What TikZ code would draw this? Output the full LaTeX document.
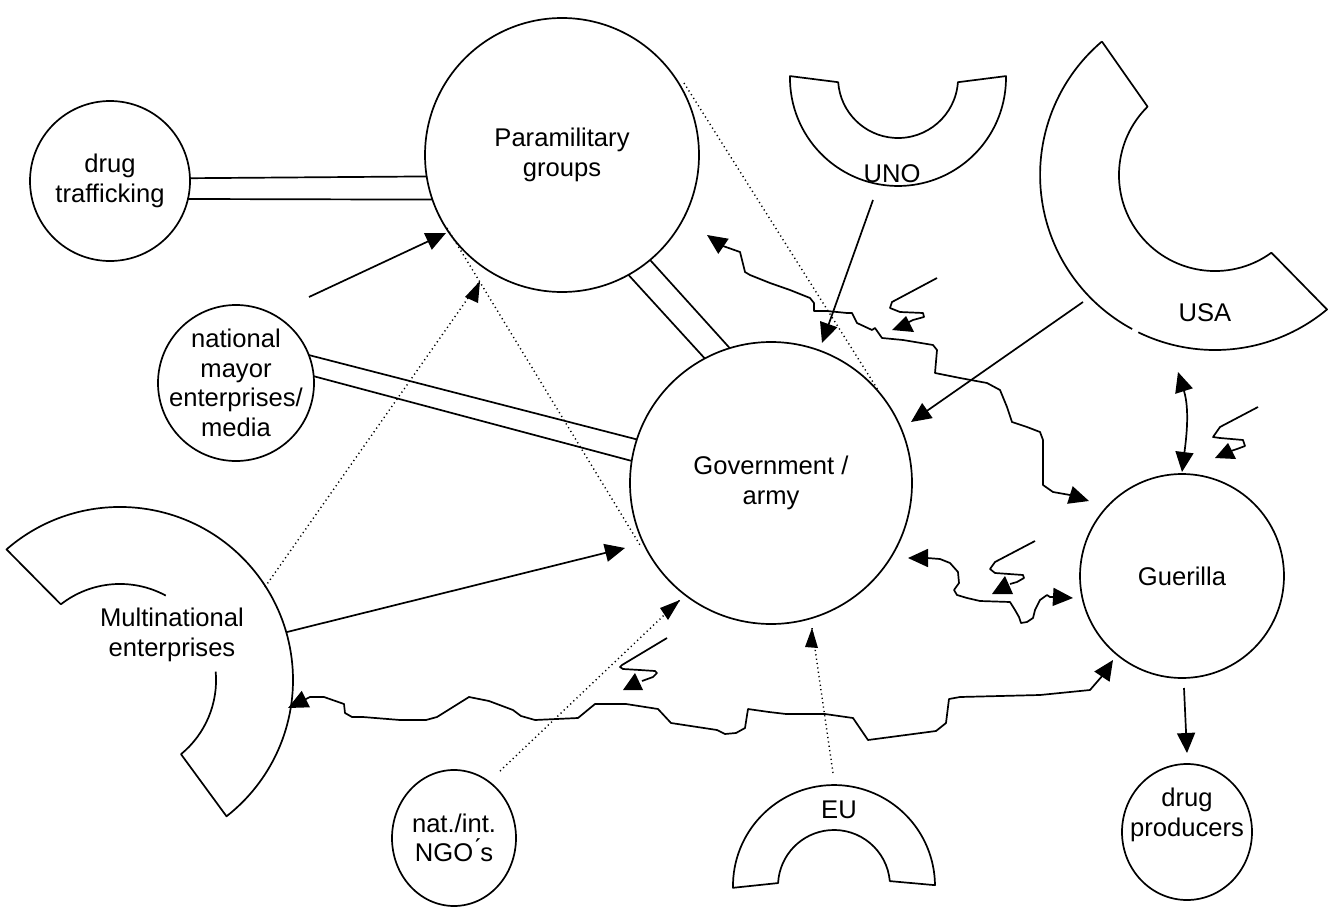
\documentclass[tikz,border=0pt]{standalone}
\usepackage{fontspec}
\setmainfont{Liberation Sans}
\usetikzlibrary{arrows.meta,shapes.geometric}
\begin{document}
\begin{tikzpicture}[x=0.5pt,y=-0.5pt,
  txt/.style={align=center, inner sep=0pt, font=\fontsize{12.8}{14.8}\selectfont},
  ent/.style={draw, circle, line width=0.85pt, inner sep=0pt, outer sep=0pt},
  ell/.style={draw, ellipse, line width=0.85pt, inner sep=0pt, outer sep=0pt},
  con/.style={line width=0.85pt, line join=round},
  tip/.style={-{Triangle[length=10pt,width=9pt]}},
  tips/.style={{Triangle[length=10pt,width=9pt]}-{Triangle[length=10pt,width=9pt]}},
  dotl/.style={line width=0.7pt, dash pattern=on 0.6pt off 1.6pt},
  shp/.style={line width=0.85pt, line join=round},
  head/.style={fill=black}
]
\useasboundingbox (0,0) rectangle (1329,921);

% entities (shapes)
\node[ent, minimum size=80pt]  (dt)  at (110,181) {};
\node[ent, minimum size=137pt] (pm)  at (562,155) {};
\node[ent, minimum size=78pt]  (nm)  at (236,383) {};
\node[ent, minimum size=141pt] (gov) at (771,483) {};
\node[ent, minimum size=102pt] (gue) at (1182,576) {};
\node[ell, minimum width=65pt, minimum height=68pt] (dp)  at (1187,832) {};
\node[ell, minimum width=62pt, minimum height=68pt] (ngo) at (454,838) {};
% entity labels
\node[txt] (dtt)  at (dt)  {drug\\trafficking};
\node[txt] (pmt)  at (pm)  {Paramilitary\\groups};
\node[txt] (nmt)  at (nm)  {national\\mayor\\enterprises/\\media};
\node[txt] (govt) at (gov) {Government /\\army};
\node[txt] (guet) at (gue) {Guerilla};
\node[txt] (dpt)  at (1187,815) {drug\\producers};
\node[txt] (ngot) at (ngo) {nat./int.\\NGO\'{}s};

% arc shaped actors
\draw[shp] (790,76.1) arc[start angle=181,end angle=-1,radius=108] -- (957.9,82.2) arc[start angle=4,end angle=176,radius=60] -- cycle;
\node[txt] (uno) at (892,174) {UNO};
\draw[shp] (733,887.8) arc[start angle=179,end angle=359.5,radius=101] -- (889.8,881.1) arc[start angle=355,end angle=183,radius=56] -- cycle;
\node[txt] (eu) at (839,810) {EU};
\draw[shp] (1101.9,41.5) arc[start angle=229.7,end angle=118.3,radius=175];
\draw[shp] (1138.3,332.3) arc[start angle=116,end angle=50.2,radius=175] -- (1271.4,252.7) arc[start angle=54,end angle=225.4,radius=96] -- (1101.9,41.5);
\node[txt] (usa) at (1205,313) {USA};
\draw[shp] (60.9,604.4) -- (6.5,549.4) arc[start angle=229,end angle=412,radius=173] -- (181,754.2) arc[start angle=50.6,end angle=-5,radius=96];
\draw[shp] (165.8,595.6) arc[start angle=-61.5,end angle=-128,radius=96];
\node[txt] (mne) at (172,635) {Multinational\\enterprises};

% free connector ends
\coordinate (nmA) at (309,297);
\coordinate (pmA) at (446,233);
\coordinate (unoA) at (873,200);
\coordinate (govU) at (822,343);
\coordinate (usaA) at (1083,302);
\coordinate (govS) at (911,422);
\coordinate (mneA) at (287,632);
\coordinate (govM) at (625,548);
\coordinate (mneD) at (265,587);
\coordinate (pmD) at (480,281);
\coordinate (pmE) at (447,228);
\coordinate (govE) at (640,545);
\coordinate (pmF) at (684,83);
\coordinate (govF) at (878,390);
\coordinate (ngoA) at (500,771);
\coordinate (govN) at (680,600);
\coordinate (euA) at (833,773);
\coordinate (govEU) at (812,628);
\coordinate (gueB) at (1184,688);
\coordinate (dpT) at (1187,753);
\coordinate (usaB) at (1178,372);
\coordinate (gueT) at (1182,472);

% double lines
\draw[con] (dt.2) -- (pm.189.7);
\draw[con] (dt.-13.7) -- (pm.199.2);
\draw[con] (pm.-61) -- (gov.118.2);
\draw[con] (pm.-50.8) -- (gov.107.9);
\draw[con] (nm.21.9) -- (gov.162.3);
\draw[con] (nm.5.3) -- (gov.171.3);

% solid arrows
\draw[con,tip] (nmA) -- (pmA);
\draw[con,tip] (unoA) -- (govU);
\draw[con,tip] (usaA) -- (govS);
\draw[con,tip] (mneA) -- (govM);
\draw[con,tip] (gueB) -- (dpT);
\draw[con,tips] (usaB) .. controls (1190,410) and (1186,440) .. (gueT);

% dotted
\draw[dotl] (mneD) -- (pmD);
\fill[head] (pmD) -- ++(-15,16) -- ++(13,6) -- cycle;
\draw[dotl] (pmE) -- (govE);
\draw[dotl] (pmF) -- (govF);
\draw[dotl] (ngoA) -- (govN);
\fill[head] (govN) -- ++(-20,8) -- ++(8,12) -- cycle;
\draw[dotl] (euA) -- (govEU);
\fill[head] (govEU) -- ++(-7,19) -- ++(13,1) -- cycle;

% wavy conflict lines
\draw[con,tips] (707,235) -- (723,246) -- (740,252) -- (745,272) -- (750,275) -- (770,283) -- (790,290) -- (810,298) -- (814,303) -- (814,311) -- (827,311) -- (847,313) -- (852,313) -- (857,323) -- (872,330) -- (875,328) -- (882,338) -- (903,340) -- (933,345) -- (937,350) -- (935,373) -- (960,378) -- (987,383) -- (1000,390) -- (1007,407) -- (1012,422) -- (1027,427) -- (1040,432) -- (1043,440) -- (1043,485) -- (1053,492) -- (1070,495) -- (1089,501);
\draw[con,tips] (908,558) -- (927,558) -- (940,559) -- (950,563) -- (958,572) -- (959,583) -- (954,590) -- (957,595) -- (967,598) -- (980,601) -- (1010,602) -- (1015,610) -- (1019,617) -- (1021,623) -- (1027,622) -- (1033,618) -- (1035,610) -- (1040,600) -- (1047,595) -- (1050,597) -- (1055,597) -- (1073,598);
\draw[con,tips] (288,708) -- (310,697) -- (324,697) -- (344,704) -- (345,713) -- (352,717) -- (363,717) -- (400,720) -- (426,720) -- (437,717) -- (469,697) -- (489,701) -- (513,710) -- (521,716) -- (535,720) -- (578,718) -- (595,704) -- (626,704) -- (658,709) -- (671,723) -- (717,730) -- (725,734) -- (736,733) -- (745,728) -- (748,709) -- (769,712) -- (786,714) -- (825,714) -- (853,718) -- (868,740) -- (936,731) -- (946,723) -- (949,699) -- (960,697) -- (1040,695) -- (1090,690) -- (1103,675) -- (1113,660);

% lightning squiggles
\draw[con] (937,278) -- (892,302) -- (890,308) -- (900,312) -- (923,313) -- (924,317) -- (913,320) -- (905,324);
\fill[head] (892,330) -- (906,316) -- (914,332) -- cycle;
\draw[con] (1258,407) -- (1220,427) -- (1213,437) -- (1220,438) -- (1243,440) -- (1245,446) -- (1237,449) -- (1228,452);
\fill[head] (1215,458) -- (1228,443) -- (1236,459) -- cycle;
\draw[con] (1035,541) -- (995,562) -- (990,569) -- (995,573) -- (1023,575) -- (1024,578) -- (1017,582) -- (1010,584);
\fill[head] (992,594) -- (1005,576) -- (1013,594) -- cycle;
\draw[con] (667,638) -- (622,665) -- (620,667) -- (623,669) -- (640,670) -- (655,671) -- (657,673) -- (653,677) -- (642,681);
\fill[head] (623,690) -- (635,673) -- (643,690) -- cycle;
\end{tikzpicture}
\end{document}
